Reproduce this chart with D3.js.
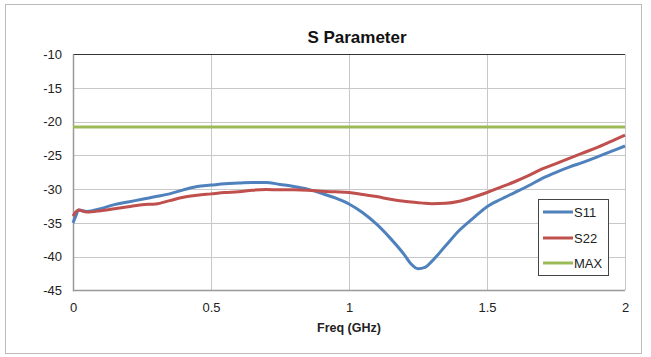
<!DOCTYPE html>
<html><head><meta charset="utf-8">
<script src="https://cdn.jsdelivr.net/npm/d3@7/dist/d3.min.js"></script>
<style>
html,body{margin:0;padding:0;background:#fff;}
svg{display:block;font-family:"Liberation Sans",Arial,sans-serif;}
</style></head>
<body>
<svg id="chart" width="651" height="357"></svg>
<script>
const freq = [0,0.01,0.02,0.05,0.1,0.15,0.2,0.25,0.3,0.35,0.4,0.45,0.5,0.55,0.6,0.65,0.7,0.75,0.8,0.85,0.9,0.95,1.0,1.05,1.1,1.15,1.2,1.225,1.25,1.275,1.3,1.35,1.4,1.45,1.5,1.55,1.6,1.65,1.7,1.75,1.8,1.85,1.9,1.95,2.0];
const s11 = [-35.0,-34.0,-33.1,-33.3,-32.9,-32.3,-31.9,-31.5,-31.1,-30.7,-30.1,-29.6,-29.4,-29.2,-29.1,-29.0,-29.0,-29.3,-29.6,-30.0,-30.6,-31.3,-32.2,-33.5,-35.2,-37.3,-39.7,-41.1,-41.8,-41.6,-40.7,-38.4,-36.1,-34.3,-32.6,-31.5,-30.5,-29.5,-28.4,-27.5,-26.7,-26.0,-25.2,-24.4,-23.6];
const s22 = [-34.0,-33.4,-33.1,-33.4,-33.2,-32.9,-32.6,-32.3,-32.2,-31.7,-31.2,-30.9,-30.7,-30.5,-30.4,-30.15,-30.05,-30.1,-30.1,-30.15,-30.3,-30.4,-30.5,-30.8,-31.1,-31.5,-31.8,-31.9,-32.0,-32.1,-32.15,-32.1,-31.8,-31.2,-30.5,-29.7,-28.9,-28.0,-27.0,-26.2,-25.4,-24.6,-23.8,-22.9,-22.0];
const maxLimit = [-20.8,-20.8];
const maxFreq = [0,2];
const yTicks = [-10,-15,-20,-25,-30,-35,-40,-45];
const xTicks = [0,0.5,1,1.5,2];
const seriesNames = ["S11","S22","MAX"];
const colors = ["#4F81BD","#C0504D","#9BBB59"];

const svg = d3.select("#chart");
const L=73, R=625, T=54.3, B=290.3;
const x = d3.scaleLinear().domain([0,2]).range([L,R]);
const y = d3.scaleLinear().domain([-45,-10]).range([B,T]);

// outer border
svg.append("rect").attr("x",5.5).attr("y",4.5).attr("width",636).attr("height",349)
  .attr("fill","#fff").attr("stroke","#bcbcbc").attr("stroke-width",1);

// gridlines
svg.append("g").selectAll("line").data(yTicks.filter(d=>d!==-45 && d!==-10)).join("line")
  .attr("x1",L).attr("x2",R).attr("y1",d=>Math.round(y(d))+0.5).attr("y2",d=>Math.round(y(d))+0.5)
  .attr("stroke","#c8c8c8").attr("stroke-width",1);
svg.append("g").selectAll("line").data(xTicks.filter(d=>d!==0)).join("line")
  .attr("y1",T).attr("y2",B).attr("x1",d=>Math.round(x(d))+0.5).attr("x2",d=>Math.round(x(d))+0.5)
  .attr("stroke","#c8c8c8").attr("stroke-width",1);
// top line
svg.append("line").attr("x1",L).attr("x2",R).attr("y1",Math.round(y(-10))+0.5).attr("y2",Math.round(y(-10))+0.5)
  .attr("stroke","#333").attr("stroke-width",1);
// axes lines
svg.append("line").attr("x1",Math.round(L)+0.5).attr("x2",Math.round(L)+0.5).attr("y1",T).attr("y2",B+1)
  .attr("stroke","#999").attr("stroke-width",1.5);
svg.append("line").attr("x1",L).attr("x2",R).attr("y1",Math.round(B)+0.5).attr("y2",Math.round(B)+0.5)
  .attr("stroke","#999").attr("stroke-width",1.5);

// tick labels via axes
const yAxis = d3.axisLeft(y).tickValues(yTicks).tickSize(0).tickPadding(11).tickFormat(d=>d);
const gy = svg.append("g").attr("transform",`translate(${L},0)`).call(yAxis);
gy.select(".domain").remove();
gy.selectAll("text").attr("font-size",13).attr("fill","#222");
const xAxis = d3.axisBottom(x).tickValues(xTicks).tickSize(0).tickPadding(12).tickFormat(d=>d);
const gx = svg.append("g").attr("transform",`translate(0,${B})`).call(xAxis);
gx.select(".domain").remove();
gx.selectAll("text").attr("font-size",13).attr("fill","#222");

// lines
const line = d3.line().x(d=>x(d[0])).y(d=>y(d[1])).curve(d3.curveMonotoneX);
const dataS11 = freq.map((f,i)=>[f,s11[i]]);
const dataS22 = freq.map((f,i)=>[f,s22[i]]);
const dataMax = maxFreq.map((f,i)=>[f,maxLimit[i]]);
[dataS11,dataS22,dataMax].forEach((d,i)=>{
  svg.append("path").datum(d).attr("d",line).attr("fill","none")
    .attr("stroke",colors[i]).attr("stroke-width",3).attr("stroke-linejoin","round");
});

// title
svg.append("text").attr("x",357).attr("y",43).attr("text-anchor","middle")
  .attr("font-size",17).attr("font-weight","bold").attr("fill","#111").text("S Parameter");
svg.append("text").attr("x",349).attr("y",332).attr("text-anchor","middle")
  .attr("font-size",12.5).attr("font-weight","bold").attr("fill","#222").text("Freq (GHz)");

// legend
const lg = svg.append("g");
lg.append("rect").attr("x",538.5).attr("y",199.5).attr("width",70).attr("height",76)
  .attr("fill","#fff").attr("stroke","#444").attr("stroke-width",1);
const ly = [212,238,263];
seriesNames.forEach((n,i)=>{
  lg.append("line").attr("x1",543).attr("x2",573).attr("y1",ly[i]).attr("y2",ly[i])
    .attr("stroke",colors[i]).attr("stroke-width",3);
  lg.append("text").attr("x",574).attr("y",ly[i]+4.5).attr("font-size",13).attr("fill","#222").text(n);
});
</script>
</body></html>
